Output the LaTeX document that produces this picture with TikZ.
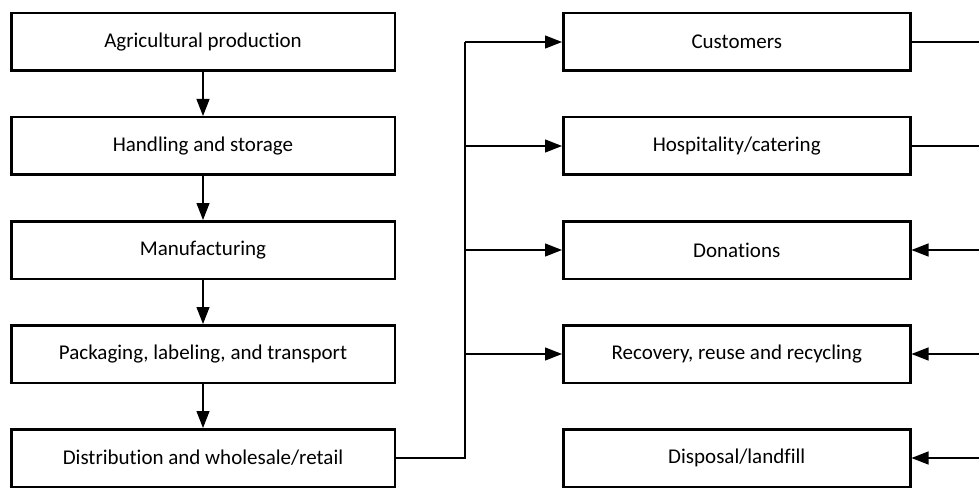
\documentclass[tikz,border=0pt]{standalone}
\usepackage{fontspec}
\setmainfont{Carlito}[Ligatures=NoCommon]
\usetikzlibrary{positioning,arrows.meta}

\begin{document}
\begin{tikzpicture}[
    stagebox/.style={rectangle, draw, line width=2.5pt, minimum width=383.5pt, minimum height=57.5pt, font=\fontsize{21}{24}\selectfont},
    outbox/.style={stagebox, minimum width=347pt},
    flow/.style={-{Triangle[length=17pt,width=13pt]}, line width=1.2pt},
    node distance=44pt]
    \useasboundingbox (0,0) rectangle (979pt,-489pt);
    %Nodes
    \node[stagebox] (agri) at (203pt,-42pt) {Agricultural production};
    \node[stagebox] (handling) [below=of agri] {Handling and storage};
    \node[stagebox] (manuf) [below=of handling] {Manufacturing};
    \node[stagebox] (pack) [below=of manuf] {Packaging, labeling, and transport};
    \node[stagebox] (distr) [below=of pack] {Distribution and wholesale/retail};

    \node[outbox] (cust) [right=166pt of agri] {Customers};
    \node[outbox] (hosp) [right=166pt of handling] {Hospitality/catering};
    \node[outbox] (donat) [right=166pt of manuf] {Donations};
    \node[outbox] (recov) [right=166pt of pack] {Recovery, reuse and recycling};
    \node[outbox] (disp) [right=166pt of distr] {Disposal/landfill};

    \coordinate (split) at (465pt,0 |- distr.east);
    \foreach \n in {cust,hosp,donat,recov,disp}
      \coordinate (edge-\n) at (979pt,0 |- \n.east);

    % %Lines
    \draw[flow] (agri) -- (handling);
    \draw[flow] (handling) -- (manuf);
    \draw[flow] (manuf) -- (pack);
    \draw[flow] (pack) -- (distr);

    \draw[line width=1.2pt] (distr.east) -- (split) -- (split |- cust.west);
    \foreach \n in {cust,hosp,donat,recov}
      \draw[flow] (split |- \n.west) -- (\n.west);

    \draw[line width=1.2pt] (cust.east) -- (edge-cust);
    \draw[line width=1.2pt] (hosp.east) -- (edge-hosp);
    \foreach \n in {donat,recov,disp}
      \draw[flow] (edge-\n) -- (\n.east);
  \end{tikzpicture}
\end{document}
